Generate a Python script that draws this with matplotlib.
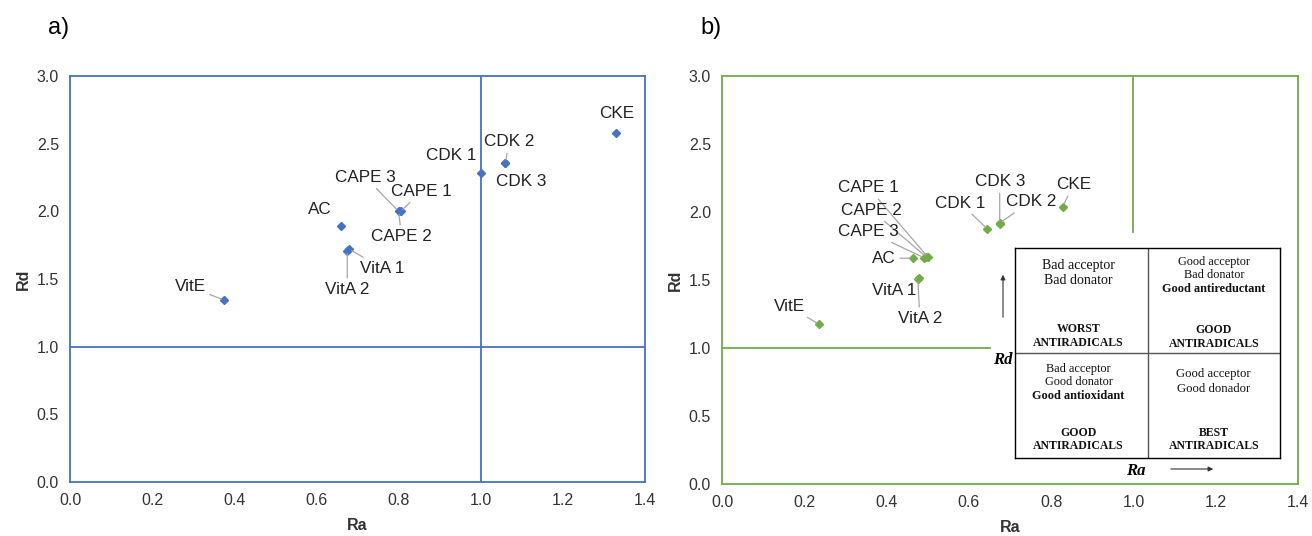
import matplotlib.pyplot as plt

plt.rcParams['font.family'] = ['Liberation Sans', 'DejaVu Sans']

W, H = 1312, 536

names = ['CKE', 'CDK 1', 'CDK 2', 'CDK 3', 'CAPE 1', 'CAPE 2', 'CAPE 3',
         'AC', 'VitA 1', 'VitA 2', 'VitE']

# panel a
ra_a = [1.33, 1.00, 1.06, 1.06, 0.805, 0.80, 0.80, 0.66, 0.68, 0.675, 0.375]
rd_a = [2.58, 2.28, 2.36, 2.36, 2.00, 2.00, 2.00, 1.89, 1.72, 1.71, 1.345]

# panel b
ra_b = [0.828, 0.645, 0.675, 0.675, 0.50, 0.497, 0.49, 0.464, 0.478, 0.476, 0.236]
rd_b = [2.04, 1.875, 1.92, 1.915, 1.67, 1.668, 1.665, 1.66, 1.515, 1.51, 1.174]

xticks = [0.0, 0.2, 0.4, 0.6, 0.8, 1.0, 1.2, 1.4]
yticks = [0.0, 0.5, 1.0, 1.5, 2.0, 2.5, 3.0]

# label offsets in pixels (dx, dy, leader line?)
off_a = {
    'CKE': (0, 19, False), 'CDK 1': (-30, 18, False), 'CDK 2': (4, 21, True),
    'CDK 3': (16, -19, False), 'CAPE 1': (21, 20, True), 'CAPE 2': (3, -25, True),
    'CAPE 3': (-33, 34, True), 'AC': (-21, 17, False), 'VitA 1': (33, -19, True),
    'VitA 2': (0, -39, True), 'VitE': (-34, 13, True),
}
off_b = {
    'CKE': (11, 22, True), 'CDK 1': (-27, 26, True), 'CDK 2': (31, 21, True),
    'CDK 3': (0, 42, True), 'CAPE 1': (-59, 69, True), 'CAPE 2': (-55, 47, True),
    'CAPE 3': (-55, 26, True), 'AC': (-29, 0, True), 'VitA 1': (-24, -13, True),
    'VitA 2': (2, -40, True), 'VitE': (-30, 18, True),
}


def px(x, y):
    return x / W, 1 - y / H


def setup(ax, color):
    ax.set_xlim(0, 1.4)
    ax.set_ylim(0, 3.0)
    ax.set_xticks(xticks)
    ax.set_yticks(yticks)
    ax.set_xticklabels([f'{v:.1f}' for v in xticks])
    ax.set_yticklabels([f'{v:.1f}' for v in yticks])
    ax.tick_params(length=0, labelsize=11.5, labelcolor='#333333', pad=8)
    for s in ax.spines.values():
        s.set_color(color)
        s.set_linewidth(1.3)
    ax.set_xlabel('Ra', fontsize=11.5, fontweight='bold', color='#333333', labelpad=7)
    ax.set_ylabel('Rd', fontsize=11.5, fontweight='bold', color='#333333', labelpad=4)


def label(ax, xs, ys, offs):
    for n, x, y in zip(names, xs, ys):
        dx, dy, lead = offs[n]
        ap = dict(arrowstyle='-', color='#a6a6a6', lw=0.9, shrinkA=1, shrinkB=2) if lead else None
        ax.annotate(n, (x, y), xytext=(dx, dy), textcoords='offset pixels',
                    ha='center', va='center', fontsize=12.3, color='#222222',
                    arrowprops=ap)


fig = plt.figure(figsize=(W / 100, H / 100), dpi=100)

blue = '#4472C4'
green = '#70AD47'

ax1 = fig.add_axes([70 / W, 1 - 482 / H, 575 / W, 406 / H])
setup(ax1, blue)
ax1.axvline(1.0, color=blue, lw=1.3)
ax1.axhline(1.0, color=blue, lw=1.3)
ax1.plot(ra_a, rd_a, 'D', color=blue, markersize=4.5, zorder=3)
label(ax1, ra_a, rd_a, off_a)

ax2 = fig.add_axes([722 / W, 1 - 484 / H, 576 / W, 408 / H])
setup(ax2, green)
ax2.plot([0, 0.652], [1.0, 1.0], color=green, lw=1.3)
ax2.plot([1.0, 1.0], [1.85, 3.0], color=green, lw=1.3)
ax2.plot(ra_b, rd_b, 'D', color=green, markersize=4.5, zorder=3)
label(ax2, ra_b, rd_b, off_b)

fig.text(*px(48, 28), 'a)', fontsize=17, va='center')
fig.text(*px(700, 28), 'b)', fontsize=17, va='center')

# quadrant legend box
box = fig.add_axes([1015 / W, 1 - 458 / H, 265 / W, 210 / H])
box.set_xlim(0, 2)
box.set_ylim(0, 2)
box.set_xticks([])
box.set_yticks([])
for s in box.spines.values():
    s.set_linewidth(1.0)
box.axvline(1, color='#555555', lw=1)
box.axhline(1, color='#555555', lw=1)
serif = ['Liberation Serif', 'DejaVu Serif']
kw = dict(ha='center', va='center', family=serif, color='#111111')
box.text(0.48, 1.83, 'Bad acceptor', fontsize=10, **kw)
box.text(0.48, 1.69, 'Bad donator', fontsize=10, **kw)
box.text(0.48, 1.23, 'WORST', fontsize=8.5, fontweight='bold', **kw)
box.text(0.48, 1.10, 'ANTIRADICALS', fontsize=8.5, fontweight='bold', **kw)
box.text(1.5, 1.87, 'Good acceptor', fontsize=8.8, **kw)
box.text(1.5, 1.74, 'Bad donator', fontsize=8.8, **kw)
box.text(1.5, 1.61, 'Good antireductant', fontsize=8.8, fontweight='bold', **kw)
box.text(1.5, 1.22, 'GOOD', fontsize=8.5, fontweight='bold', **kw)
box.text(1.5, 1.09, 'ANTIRADICALS', fontsize=8.5, fontweight='bold', **kw)
box.text(0.48, 0.85, 'Bad acceptor', fontsize=8.8, **kw)
box.text(0.48, 0.72, 'Good donator', fontsize=8.8, **kw)
box.text(0.48, 0.59, 'Good antioxidant', fontsize=8.8, fontweight='bold', **kw)
box.text(0.48, 0.24, 'GOOD', fontsize=8.5, fontweight='bold', **kw)
box.text(0.48, 0.11, 'ANTIRADICALS', fontsize=8.5, fontweight='bold', **kw)
box.text(1.5, 0.80, 'Good acceptor', fontsize=9.2, **kw)
box.text(1.5, 0.66, 'Good donador', fontsize=9.2, **kw)
box.text(1.5, 0.24, 'BEST', fontsize=8.5, fontweight='bold', **kw)
box.text(1.5, 0.11, 'ANTIRADICALS', fontsize=8.5, fontweight='bold', **kw)

fig.text(*px(1003, 360), 'Rd', fontsize=12, fontweight='bold', style='italic',
         family=serif, ha='center', va='center')
fig.text(*px(1136, 471), 'Ra', fontsize=12, fontweight='bold', style='italic',
         family=serif, ha='center', va='center')

# little direction arrows next to the box
ann_kw = dict(xycoords='figure fraction', textcoords='figure fraction', annotation_clip=False,
              arrowprops=dict(arrowstyle='-|>', color='#333333', lw=0.8, mutation_scale=7))
ax2.annotate('', xy=px(1003, 272), xytext=px(1003, 320), **ann_kw)
ax2.annotate('', xy=px(1216, 469), xytext=px(1168, 469), **ann_kw)

fig.savefig('out.png', dpi=100)
